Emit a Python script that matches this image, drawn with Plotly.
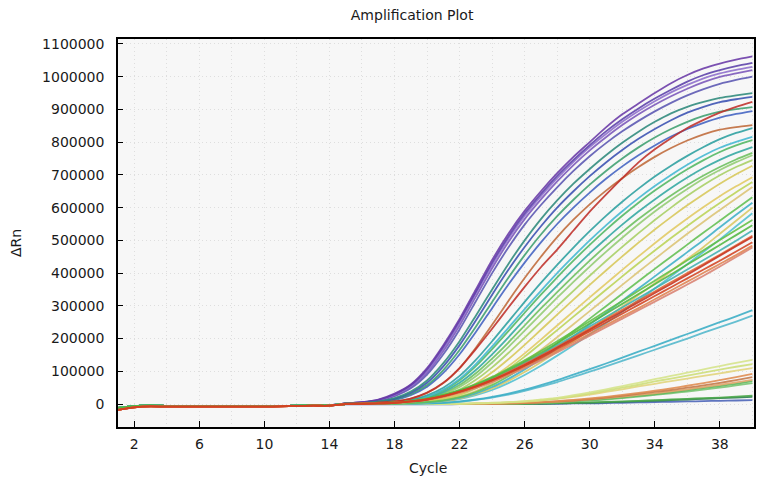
import plotly.graph_objects as go

# ---------------- data (ΔRn in thousands) ----------------
cycles = list(range(1, 41))
x_tick_labels = [2, 6, 10, 14, 18, 22, 26, 30, 34, 38]
y_tick_values = [0, 100000, 200000, 300000, 400000, 500000, 600000,
                 700000, 800000, 900000, 1000000, 1100000]

# cycles 1..14 (flat baseline region)
baseline = [-12, -6, -4, -6, -6, -6, -6, -6, -6, -6, -6, -5, -3, -4]
baseline_red = [-18, -10, -7, -8, -8, -8, -8, -8, -8, -8, -7, -6, -5, -5]

# cycles 15..40
purple_1 = [2, 6, 14, 32, 60, 110, 180, 260, 350, 440, 520, 590, 650, 705, 755, 800, 845, 885, 918, 950, 980, 1005, 1025, 1040, 1052, 1062]
purple_5 = [2, 6, 13, 30, 58, 106, 175, 255, 343, 432, 512, 582, 642, 697, 746, 791, 833, 870, 903, 933, 960, 985, 1005, 1020, 1032, 1042]
purple_2 = [2, 5, 12, 28, 55, 100, 168, 248, 338, 425, 505, 575, 635, 690, 740, 785, 825, 862, 895, 925, 952, 975, 995, 1010, 1021, 1030]
purple_3 = [2, 5, 11, 26, 52, 96, 162, 240, 328, 415, 495, 565, 625, 680, 730, 775, 815, 852, 885, 914, 940, 963, 983, 999, 1010, 1020]
purple_4 = [1, 4, 10, 24, 48, 90, 152, 228, 314, 400, 478, 548, 608, 662, 712, 757, 797, 833, 865, 894, 920, 943, 962, 978, 990, 1000]
blue_1 = [1, 3, 8, 18, 38, 72, 125, 192, 270, 350, 428, 500, 565, 622, 673, 718, 760, 798, 832, 862, 888, 908, 923, 935, 943, 950]
blue_2 = [1, 3, 7, 16, 34, 65, 115, 180, 255, 334, 410, 480, 543, 600, 650, 696, 738, 776, 810, 840, 867, 890, 908, 922, 931, 938]
blue_3 = [1, 2, 6, 14, 30, 58, 104, 165, 236, 312, 386, 455, 518, 574, 624, 670, 712, 750, 784, 814, 840, 862, 880, 893, 901, 907]
blue_4 = [1, 2, 5, 12, 27, 53, 95, 152, 220, 293, 365, 432, 494, 550, 600, 646, 688, 726, 760, 790, 817, 840, 859, 875, 886, 895]
red_1 = [1, 2, 4, 8, 17, 35, 65, 110, 168, 230, 295, 358, 418, 472, 530, 588, 640, 690, 738, 778, 812, 843, 868, 890, 908, 923]
brown_1 = [1, 2, 4, 8, 17, 34, 64, 110, 172, 242, 315, 385, 450, 510, 563, 610, 652, 690, 724, 755, 782, 805, 824, 838, 846, 852]
teal_1 = [1, 1, 3, 6, 13, 27, 50, 86, 135, 192, 252, 312, 370, 425, 478, 528, 575, 618, 658, 695, 728, 758, 785, 809, 828, 843]
teal_2 = [1, 1, 2, 5, 11, 23, 44, 77, 122, 176, 233, 290, 346, 400, 451, 500, 546, 589, 629, 666, 700, 731, 759, 783, 801, 816]
teal_3 = [1, 1, 2, 5, 11, 22, 42, 73, 116, 168, 223, 279, 334, 387, 438, 486, 532, 575, 615, 652, 686, 717, 745, 770, 790, 806]
teal_4 = [0, 1, 2, 4, 9, 19, 37, 65, 104, 152, 204, 258, 311, 362, 412, 460, 505, 548, 588, 625, 660, 692, 721, 746, 767, 785]
teal_5 = [0, 1, 2, 4, 8, 17, 33, 58, 94, 139, 188, 240, 292, 342, 391, 438, 483, 525, 565, 602, 637, 669, 698, 724, 747, 767]
teal_6 = [0, 1, 1, 3, 7, 15, 29, 52, 85, 127, 174, 224, 275, 325, 373, 420, 465, 508, 549, 588, 624, 657, 688, 715, 739, 760]
yellow_1 = [0, 1, 1, 3, 6, 12, 24, 44, 74, 112, 156, 203, 251, 299, 346, 392, 437, 480, 522, 562, 600, 636, 669, 699, 724, 745]
yellow_2 = [0, 0, 1, 2, 5, 10, 20, 37, 63, 97, 137, 181, 227, 273, 319, 364, 408, 451, 493, 533, 571, 607, 641, 673, 702, 728]
yellow_3 = [0, 0, 1, 2, 4, 8, 16, 30, 52, 81, 116, 155, 197, 240, 283, 326, 368, 410, 451, 491, 530, 567, 602, 635, 665, 693]
yellow_4 = [0, 0, 1, 2, 4, 8, 15, 28, 48, 75, 108, 145, 185, 226, 267, 308, 349, 390, 430, 469, 507, 544, 580, 614, 647, 678]
yellow_5 = [0, 0, 1, 1, 3, 6, 12, 23, 40, 64, 94, 128, 165, 204, 244, 284, 324, 364, 404, 443, 482, 520, 557, 593, 628, 663]
mid_1 = [0, 0, 1, 1, 3, 6, 11, 21, 37, 58, 85, 116, 150, 186, 223, 261, 299, 337, 375, 413, 450, 487, 524, 560, 596, 632]
mid_2 = [0, 0, 0, 1, 3, 5, 10, 19, 33, 52, 77, 106, 138, 172, 207, 243, 279, 316, 353, 390, 427, 464, 501, 540, 578, 615]
mid_3 = [0, 0, 0, 1, 2, 5, 9, 17, 30, 48, 71, 98, 128, 160, 193, 227, 262, 297, 333, 369, 406, 443, 480, 520, 560, 600]
mid_4 = [0, 0, 0, 1, 2, 4, 8, 15, 27, 43, 64, 89, 117, 148, 180, 213, 247, 282, 317, 353, 390, 427, 465, 503, 543, 583]
low_1 = [0, 1, 2, 4, 8, 14, 24, 37, 53, 72, 94, 117, 142, 168, 195, 222, 249, 276, 303, 330, 357, 384, 411, 438, 466, 494]
low_2 = [0, 1, 2, 4, 8, 15, 25, 38, 55, 75, 98, 122, 148, 175, 203, 231, 259, 288, 316, 344, 372, 400, 428, 456, 485, 514]
low_3 = [0, 1, 2, 5, 9, 16, 27, 41, 59, 80, 104, 130, 157, 186, 216, 246, 276, 306, 336, 366, 396, 426, 456, 486, 516, 546]
low_4 = [0, 1, 2, 4, 8, 14, 23, 36, 52, 70, 91, 114, 138, 163, 189, 215, 241, 267, 293, 320, 347, 374, 401, 428, 455, 484]
low_5 = [0, 1, 2, 3, 7, 13, 22, 34, 49, 67, 88, 110, 133, 158, 183, 209, 235, 261, 287, 313, 339, 365, 392, 420, 449, 478]
low_6 = [0, 1, 2, 4, 9, 16, 26, 40, 57, 78, 101, 126, 152, 180, 208, 237, 266, 295, 324, 353, 382, 411, 440, 469, 499, 530]
low_7 = [0, 1, 2, 5, 10, 17, 28, 43, 61, 83, 108, 134, 162, 192, 222, 253, 284, 315, 346, 377, 408, 439, 470, 501, 532, 562]
low_8 = [0, 1, 2, 4, 8, 14, 24, 38, 54, 73, 95, 119, 145, 172, 199, 227, 255, 283, 311, 339, 367, 395, 424, 453, 482, 510]
cyan_1 = [0, 0, 0, 0, 1, 2, 4, 8, 14, 22, 32, 44, 58, 73, 90, 107, 124, 142, 160, 178, 196, 214, 232, 250, 268, 287]
cyan_2 = [0, 0, 0, 0, 1, 2, 4, 7, 13, 20, 29, 40, 53, 67, 83, 99, 115, 132, 149, 166, 183, 200, 218, 235, 252, 270]
ygreen_1 = [0, 0, 0, 0, 0, 0, 0, 1, 2, 4, 6, 9, 14, 19, 27, 36, 45, 55, 65, 76, 86, 96, 106, 116, 126, 135]
ygreen_2 = [0, 0, 0, 0, 0, 0, 0, 1, 2, 3, 5, 8, 12, 17, 24, 32, 41, 50, 59, 69, 78, 87, 96, 105, 114, 122]
ygreen_3 = [0, 0, 0, 0, 0, 0, 0, 1, 2, 3, 5, 7, 11, 16, 22, 29, 37, 45, 54, 62, 70, 78, 86, 94, 102, 110]
orange_1 = [0, 0, 0, 0, 0, 0, 0, 0, 1, 1, 2, 4, 6, 9, 13, 17, 22, 28, 34, 41, 48, 56, 64, 73, 82, 92]
orange_2 = [0, 0, 0, 0, 0, 0, 0, 0, 0, 1, 2, 3, 5, 8, 11, 15, 20, 25, 31, 37, 43, 50, 57, 65, 73, 82]
orange_3 = [0, 0, 0, 0, 0, 0, 0, 0, 0, 1, 2, 3, 5, 7, 10, 14, 18, 23, 28, 33, 39, 45, 52, 59, 66, 74]
green_low_1 = [0, 0, 0, 0, 0, 0, 0, 0, 0, 1, 1, 2, 4, 6, 9, 12, 16, 20, 25, 30, 36, 42, 49, 55, 62, 70]
green_low_2 = [0, 0, 0, 0, 0, 0, 0, 0, 0, 1, 1, 2, 3, 5, 8, 11, 14, 18, 23, 28, 33, 38, 44, 50, 57, 64]
flat_1 = [0, 0, 0, 0, 0, 0, 0, 0, 0, 0, 1, 1, 2, 3, 4, 5, 7, 8, 10, 12, 14, 16, 18, 20, 23, 26]
flat_2 = [0, 0, 0, 0, 0, 0, 0, 0, 0, 0, 0, 1, 1, 2, 3, 4, 5, 7, 8, 10, 12, 14, 16, 18, 20, 22]
flat_3 = [-1, -1, -1, -1, -1, -1, -1, 0, 0, 0, 0, 0, 1, 1, 2, 2, 3, 4, 5, 6, 7, 8, 9, 10, 11, 12]

# ---------------- styling ----------------
series = [
    (flat_3, '#4a62b8', baseline), (flat_2, '#2a7a50', baseline), (flat_1, '#4aa848', baseline),
    (green_low_2, '#78c470', baseline), (green_low_1, '#5cb85c', baseline),
    (orange_3, '#e2a468', baseline), (orange_2, '#c47848', baseline), (orange_1, '#e08c50', baseline),
    (ygreen_3, '#e2d47a', baseline), (ygreen_2, '#cede78', baseline), (ygreen_1, '#d6e48a', baseline),
    (cyan_2, '#52b8cc', baseline), (cyan_1, '#3aaec6', baseline),
    (purple_4, '#5a56b2', baseline), (purple_3, '#7a56ba', baseline), (purple_2, '#8e6ecc', baseline),
    (purple_5, '#5c40aa', baseline), (purple_1, '#6a3aa8', baseline),
    (blue_4, '#4262c2', baseline), (blue_3, '#3ea070', baseline), (blue_2, '#3a50b2', baseline),
    (blue_1, '#2e8a7c', baseline),
    (yellow_5, '#dcc474', baseline), (yellow_4, '#bcd456', baseline), (yellow_3, '#e2ca62', baseline),
    (yellow_2, '#d8c858', baseline), (yellow_1, '#a8d064', baseline),
    (mid_4, '#52c0d2', baseline), (mid_3, '#dac862', baseline), (mid_2, '#3eb0c8', baseline),
    (mid_1, '#62c052', baseline),
    (teal_6, '#92cc72', baseline), (teal_5, '#6cc05e', baseline), (teal_4, '#32a8a2', baseline),
    (teal_3, '#52b862', baseline), (teal_2, '#42b8d2', baseline), (teal_1, '#2ca0a0', baseline),
    (brown_1, '#c06a3a', baseline_red), (red_1, '#c0302a', baseline_red),
    (low_6, '#42b0b2', baseline), (low_7, '#62c044', baseline), (low_3, '#52b842', baseline),
    (low_5, '#da8272', baseline_red), (low_4, '#e08452', baseline_red), (low_2, '#e06232', baseline_red),
    (low_8, '#c83422', baseline_red), (low_1, '#d44422', baseline_red),
]

fig = go.Figure()
for values, color, base in series:
    y = [v * 1000 for v in base + values]
    fig.add_trace(go.Scatter(
        x=cycles, y=y, mode='lines',
        line=dict(color=color, width=1.8, shape='spline', smoothing=0.6),
        opacity=0.88, showlegend=False, hoverinfo='skip'))

font_family = "DejaVu Sans"
text_color = "#1a1a1a"
grid_color = '#dedede'

fig.update_layout(
    width=766, height=484,
    margin=dict(l=118, r=12, t=39, b=57, autoexpand=False),
    paper_bgcolor='white', plot_bgcolor='#f7f7f7',
    font=dict(family=font_family, size=14, color=text_color),
    title=dict(text='Amplification Plot', x=0.538, xref='container', xanchor='center',
               y=1 - 15 / 484, yref='container', yanchor='middle',
               font=dict(size=14, family=font_family, color=text_color)),
    showlegend=False,
    annotations=[
        dict(text='Cycle', xref='paper', yref='paper', x=(428 - 118) / 636,
             y=(427 - 468) / 388, xanchor='center', yanchor='middle',
             showarrow=False, font=dict(size=14, family=font_family, color=text_color)),
        dict(text='ΔRn', xref='paper', yref='paper', x=(16 - 118) / 636,
             y=(427 - 243) / 388, xanchor='center', yanchor='middle', textangle=-90,
             showarrow=False, font=dict(size=14, family=font_family, color=text_color)),
    ],
)
fig.update_xaxes(
    range=[1, 40.1], tickmode='array', tickvals=x_tick_labels,
    ticktext=[str(v) for v in x_tick_labels],
    ticks='inside', ticklen=6, tickwidth=1, tickcolor='black',
    showline=True, linecolor='black', linewidth=1.5, mirror=True,
    showgrid=True, gridcolor=grid_color, griddash='1px,3px', gridwidth=1,
    minor=dict(tickmode='linear', tick0=0, dtick=2, showgrid=True,
               gridcolor=grid_color, griddash='1px,3px', gridwidth=1, ticks=''),
    zeroline=False, ticklabelstandoff=3, automargin=False,
)
fig.update_yaxes(
    range=[-70000, 1115000], tickmode='array', tickvals=y_tick_values,
    ticktext=[str(v) for v in y_tick_values],
    ticks='inside', ticklen=5, tickwidth=1, tickcolor='black',
    showline=True, linecolor='black', linewidth=1.5, mirror=True,
    showgrid=True, gridcolor=grid_color, griddash='1px,3px', gridwidth=1,
    zeroline=False, ticklabelstandoff=9, automargin=False,
)

fig.write_html("out.html", config={'displayModeBar': False},
               post_script="document.body.style.margin='0';document.body.style.padding='0';")
